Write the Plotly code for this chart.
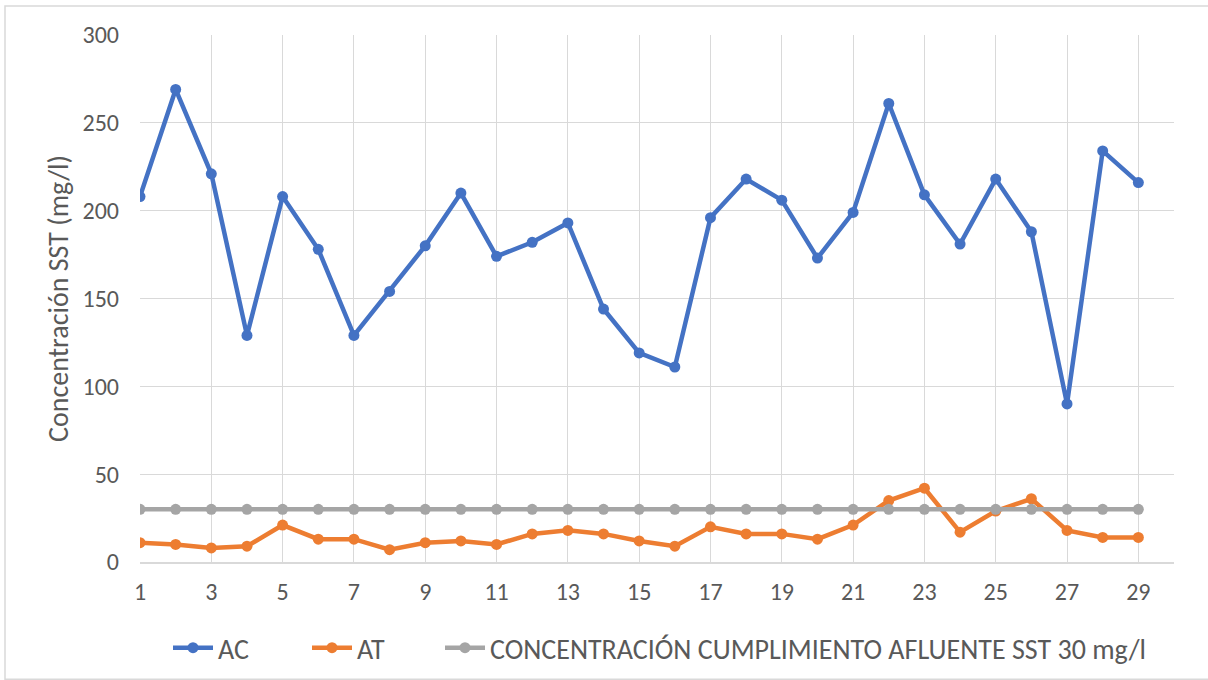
import plotly.graph_objects as go

# Sampling days
dias = list(range(1, 30))

# SST concentration (mg/l) per sample
ac = [208, 269, 221, 129, 208, 178, 129, 154, 180, 210,
      174, 182, 193, 144, 119, 111, 196, 218, 206, 173,
      199, 261, 209, 181, 218, 188, 90, 234, 216]
at = [11, 10, 8, 9, 21, 13, 13, 7, 11, 12,
      10, 16, 18, 16, 12, 9, 20, 16, 16, 13,
      21, 35, 42, 17, 29, 36, 18, 14, 14]
limite = [30] * len(dias)

x_ticks = list(range(1, 30, 2))
y_ticks = [0, 50, 100, 150, 200, 250, 300]

FONT = "Carlito, Calibri, 'Open Sans', sans-serif"
TXT = "#595959"
W, H = 1208, 680

fig = go.Figure()
series = [
    ("AC", ac, "#4472C4", "legend", 168),
    ("AT", at, "#ED7D31", "legend2", 307),
    ("CONCENTRACIÓN CUMPLIMIENTO AFLUENTE SST 30 mg/l", limite, "#A5A5A5", "legend3", 440),
]
legends = {}
for name, vals, color, leg, left_px in series:
    fig.add_trace(go.Scatter(
        x=dias, y=vals, name=name, mode="lines+markers",
        line=dict(color=color, width=4.5),
        marker=dict(color=color, size=11),
        legend=leg,
    ))
    # one legend box per series, laid out in a single row under the axis
    legends[leg] = dict(
        orientation="h", xref="container", x=left_px / W, xanchor="left",
        yref="container", y=32 / H, yanchor="middle",
        font=dict(size=28, color=TXT), itemwidth=40, bgcolor="rgba(0,0,0,0)",
    )

fig.update_layout(
    width=W, height=H,
    margin=dict(l=140, r=34, t=35, b=118, autoexpand=False),
    paper_bgcolor="white", plot_bgcolor="white",
    font=dict(family=FONT, size=24, color=TXT),
    showlegend=True,
    shapes=[dict(type="rect", xref="paper", yref="paper",
                 x0=-135 / 1034, x1=1.2, y0=-117 / 526, y1=1 + 29 / 526,
                 line=dict(color="#D9D9D9", width=1.5), layer="below")],
    **legends,
)
fig.update_xaxes(
    range=[1, 30], tickvals=x_ticks, ticktext=[str(v) for v in x_ticks],
    showgrid=True, gridcolor="#D9D9D9", gridwidth=1,
    showline=True, linecolor="#D9D9D9", linewidth=1.5,
    ticks="", ticklabelstandoff=7, zeroline=False,
    tickfont=dict(size=24, color=TXT),
)
fig.update_yaxes(
    range=[0, 300], tickvals=y_ticks,
    showgrid=True, gridcolor="#D9D9D9", gridwidth=1,
    showline=False, zeroline=False, ticks="", ticklabelstandoff=20,
    tickfont=dict(size=24, color=TXT),
    title=dict(text="Concentración SST (mg/l)", font=dict(size=28, color=TXT), standoff=5),
)

fig.write_html("out.html")
